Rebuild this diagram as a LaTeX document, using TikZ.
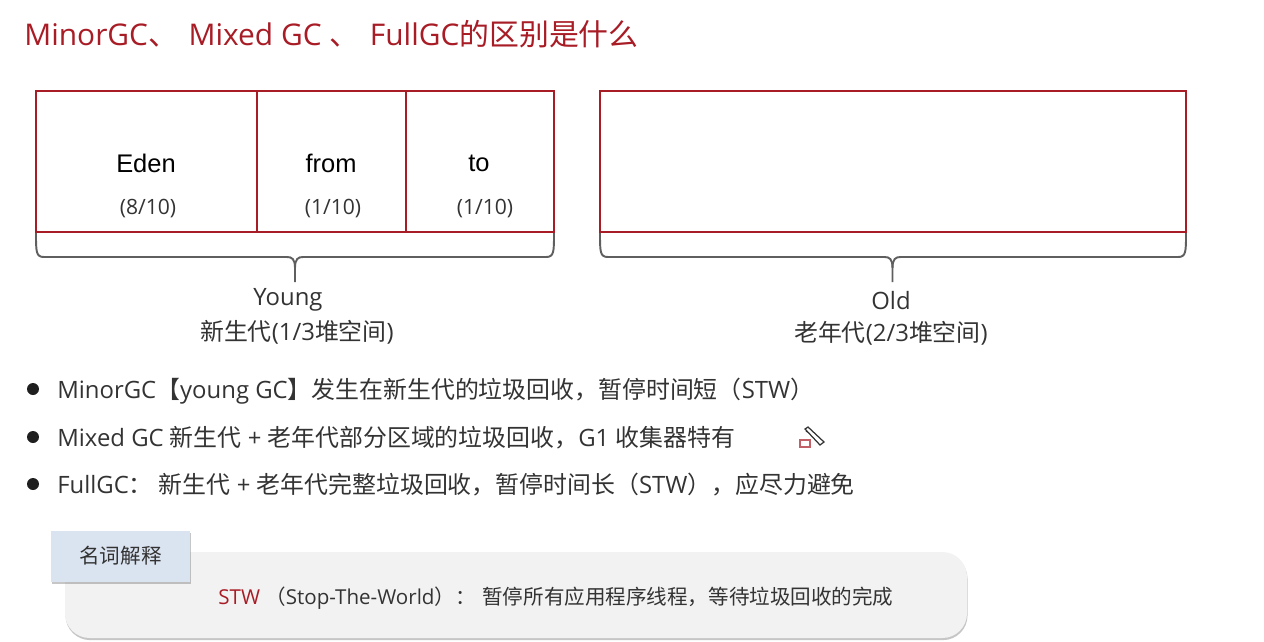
\documentclass[tikz,border=0pt]{standalone}
\usepackage{fontspec}
\setmainfont{Open Sans}
\newfontfamily\cn{Noto Sans CJK SC}
\newfontfamily\arialfont{Liberation Sans}
\usetikzlibrary{shadows}
\definecolor{gcred}{HTML}{A81C26}
\definecolor{gcgray}{HTML}{5F5F5F}
\definecolor{gctext}{HTML}{333333}
\definecolor{gctab}{HTML}{DAE3F0}
\definecolor{gcnote}{HTML}{F2F2F2}
\tikzset{x=0.02cm,y=-0.02cm}
\tikzset{mydraw/.style={gcred,line width=1.4pt}}
\tikzset{mybrace/.style={gcgray,line width=1.1pt}}
\tikzset{mynode/.style={text=gctext,inner sep=0pt,font=\fontsize{13.6}{16}\selectfont}}
\tikzset{myname/.style={mynode,text=black,font=\arialfont\fontsize{14.5}{16}\selectfont}}
\tikzset{myratio/.style={mynode,font=\fontsize{12}{14}\selectfont}}
\tikzset{myline/.style={mynode,anchor=base west}}
\tikzset{mynote/.style={mynode,font=\fontsize{11.7}{14}\selectfont}}

\begin{document}
\begin{tikzpicture}
	\useasboundingbox (0,0) rectangle (1264,642);

	\node[mynode,anchor=base west,text=gcred,font=\fontsize{17}{20}\selectfont] (title) at (24,45.5) {MinorGC{\cn、}\hspace{1.7pt} Mixed GC {\cn、}\hspace{1.7pt} FullGC{\cn 的区别是什么}};

	% memory boxes
	\draw[mydraw] (36,91) rectangle (554,232);
	\draw[mydraw] (257,91) -- (257,232) (406,91) -- (406,232);
	\draw[mydraw] (600,91) rectangle (1186,232);

	\node[myname] (eden) at (146,163) {Eden};
	\node[myname] (from) at (331,163) {from};
	\node[myname] (to) at (479,163) {to};
	\node[myratio] (edenr) at (148,209) {(8/10)};
	\node[myratio] (fromr) at (333,209) {(1/10)};
	\node[myratio] (tor) at (485,209) {(1/10)};

	% braces
	\foreach \xa/\xm/\xb in {36/295/554,600/892.5/1186} {
		\draw[mybrace] (\xa,233) .. controls (\xa,252) and (\xa,257) .. (\xa+8,257)
			-- (\xm-8,257) .. controls (\xm-3,257) and (\xm,259) .. (\xm,268) -- (\xm,282);
		\draw[mybrace] (\xb,233) .. controls (\xb,252) and (\xb,257) .. (\xb-8,257)
			-- (\xm+8,257) .. controls (\xm+3,257) and (\xm,259) .. (\xm,268);
	}

	\node[mynode] (young) at (288,300) {Young};
	\node[mynode] (youngcn) at (297,332) {{\cn 新生代}(1/3{\cn 堆空间})};
	\node[mynode] (old) at (891,301) {Old};
	\node[mynode] (oldcn) at (891,333) {{\cn 老年代}(2/3{\cn 堆空间})};

	% bullet list
	\fill[gctext!60!black] (33,389) circle (6) (33,437) circle (6) (33,484) circle (6);
	\node[myline] (minor) at (57,398) {MinorGC{\cn 【}young GC{\cn 】发生在新生代的垃圾回收，暂停时间短（}STW{\cn ）}};
	\node[myline] (mixed) at (57,446) {Mixed GC {\cn 新生代} + {\cn 老年代部分区域的垃圾回收，}G1 {\cn 收集器特有}};
	\node[myline] (full) at (57,493) {FullGC{\cn ：} {\cn 新生代} + {\cn 老年代完整垃圾回收，暂停时间长（}STW{\cn ），应尽力避免}};

	% pencil mark
	\draw[gcred!70!white,line width=0.7pt] (800,440) rectangle (810,447);
	\draw[gctext,line width=0.7pt] (805,429) -- (808,427) -- (824,442) -- (820,445) -- cycle (809,433) -- (806,431);

	% note
	\path[fill=gcnote,rounded corners=14,drop shadow={shadow xshift=0.3pt,shadow yshift=-1.2pt,opacity=0.45}] (65,552) rectangle (967,638);
	\path[fill=gctab,drop shadow={shadow xshift=0.3pt,shadow yshift=-1.2pt,opacity=0.45}] (51,531) rectangle (190,582);
	\node[mynote] (tab) at (120.5,556) {\cn 名词解释};
	\node[mynote,anchor=base west] (stw) at (218,604) {\textcolor{gcred}{STW}\hspace{3pt}{\cn （}Stop-The-World{\cn ）：}\hspace{3.8pt}{\cn 暂停所有应用程序线程，等待垃圾回收的完成}};

\end{tikzpicture}
\end{document}
